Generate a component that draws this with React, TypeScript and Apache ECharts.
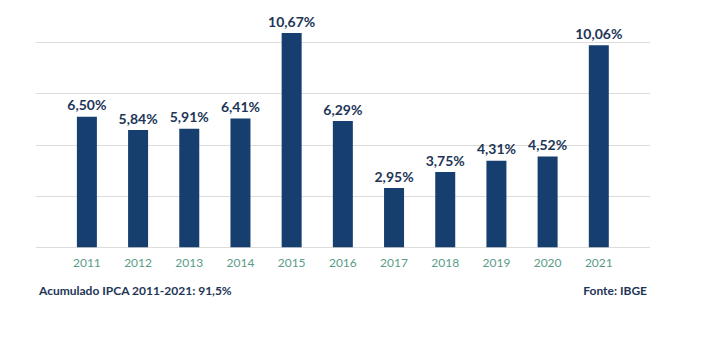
import React, { useEffect, useRef } from "react";
import * as echarts from "echarts";

const years = ["2011", "2012", "2013", "2014", "2015", "2016", "2017", "2018", "2019", "2020", "2021"];
const ipca = [6.5, 5.84, 5.91, 6.41, 10.67, 6.29, 2.95, 3.75, 4.31, 4.52, 10.06];
const footerLeft = "Acumulado IPCA 2011-2021: 91,5%";
const footerRight = "Fonte: IBGE";

export default function App() {
  const ref = useRef<HTMLDivElement>(null);
  useEffect(() => {
    if (!ref.current) return;
    const chart = echarts.init(ref.current, null, { renderer: "svg" });
    const cats = ["", ...years, ""];
    const vals: any[] = ["-", ...ipca, "-"];
    chart.setOption({
      animation: false,
      backgroundColor: "#ffffff",
      grid: { left: 35.7, right: 62, top: 42.5, bottom: 90.7 },
      xAxis: {
        type: "category",
        data: cats,
        boundaryGap: false,
        axisLine: { show: false },
        axisTick: { show: false },
        axisLabel: {
          color: "#5a9c86",
          fontFamily: "Lato",
          fontSize: 12,
          margin: 9,
          interval: 0,
        },
      },
      yAxis: {
        type: "value",
        min: 0,
        max: 10.2,
        interval: 2.55,
        axisLabel: { show: false },
        axisLine: { show: false },
        axisTick: { show: false },
        splitLine: { lineStyle: { color: "#dcdcdc", width: 1 } },
      },
      series: [
        {
          type: "bar",
          data: vals,
          barWidth: 20,
          clip: false,
          itemStyle: { color: "#163f70" },
          label: {
            show: true,
            position: "top",
            distance: 5,
            color: "#1d3557",
            fontFamily: "Lato",
            fontWeight: "bold",
            fontSize: 14,
            formatter: (p: any) => p.value.toFixed(2).replace(".", ",") + "%",
          },
        },
      ],
      graphic: [
        {
          type: "text",
          left: 39,
          top: 284,
          style: {
            text: footerLeft,
            fill: "#1d3557",
            font: "bold 12px Lato",
          },
        },
        {
          type: "text",
          right: 65,
          top: 284,
          style: {
            text: footerRight,
            fill: "#1d3557",
            font: "bold 12px Lato",
          },
        },
      ],
    });
    return () => chart.dispose();
  }, []);
  return (
    <div
      ref={ref}
      style={{ width: 712, height: 338, position: "fixed", left: 0, top: 0 }}
    />
  );
}
